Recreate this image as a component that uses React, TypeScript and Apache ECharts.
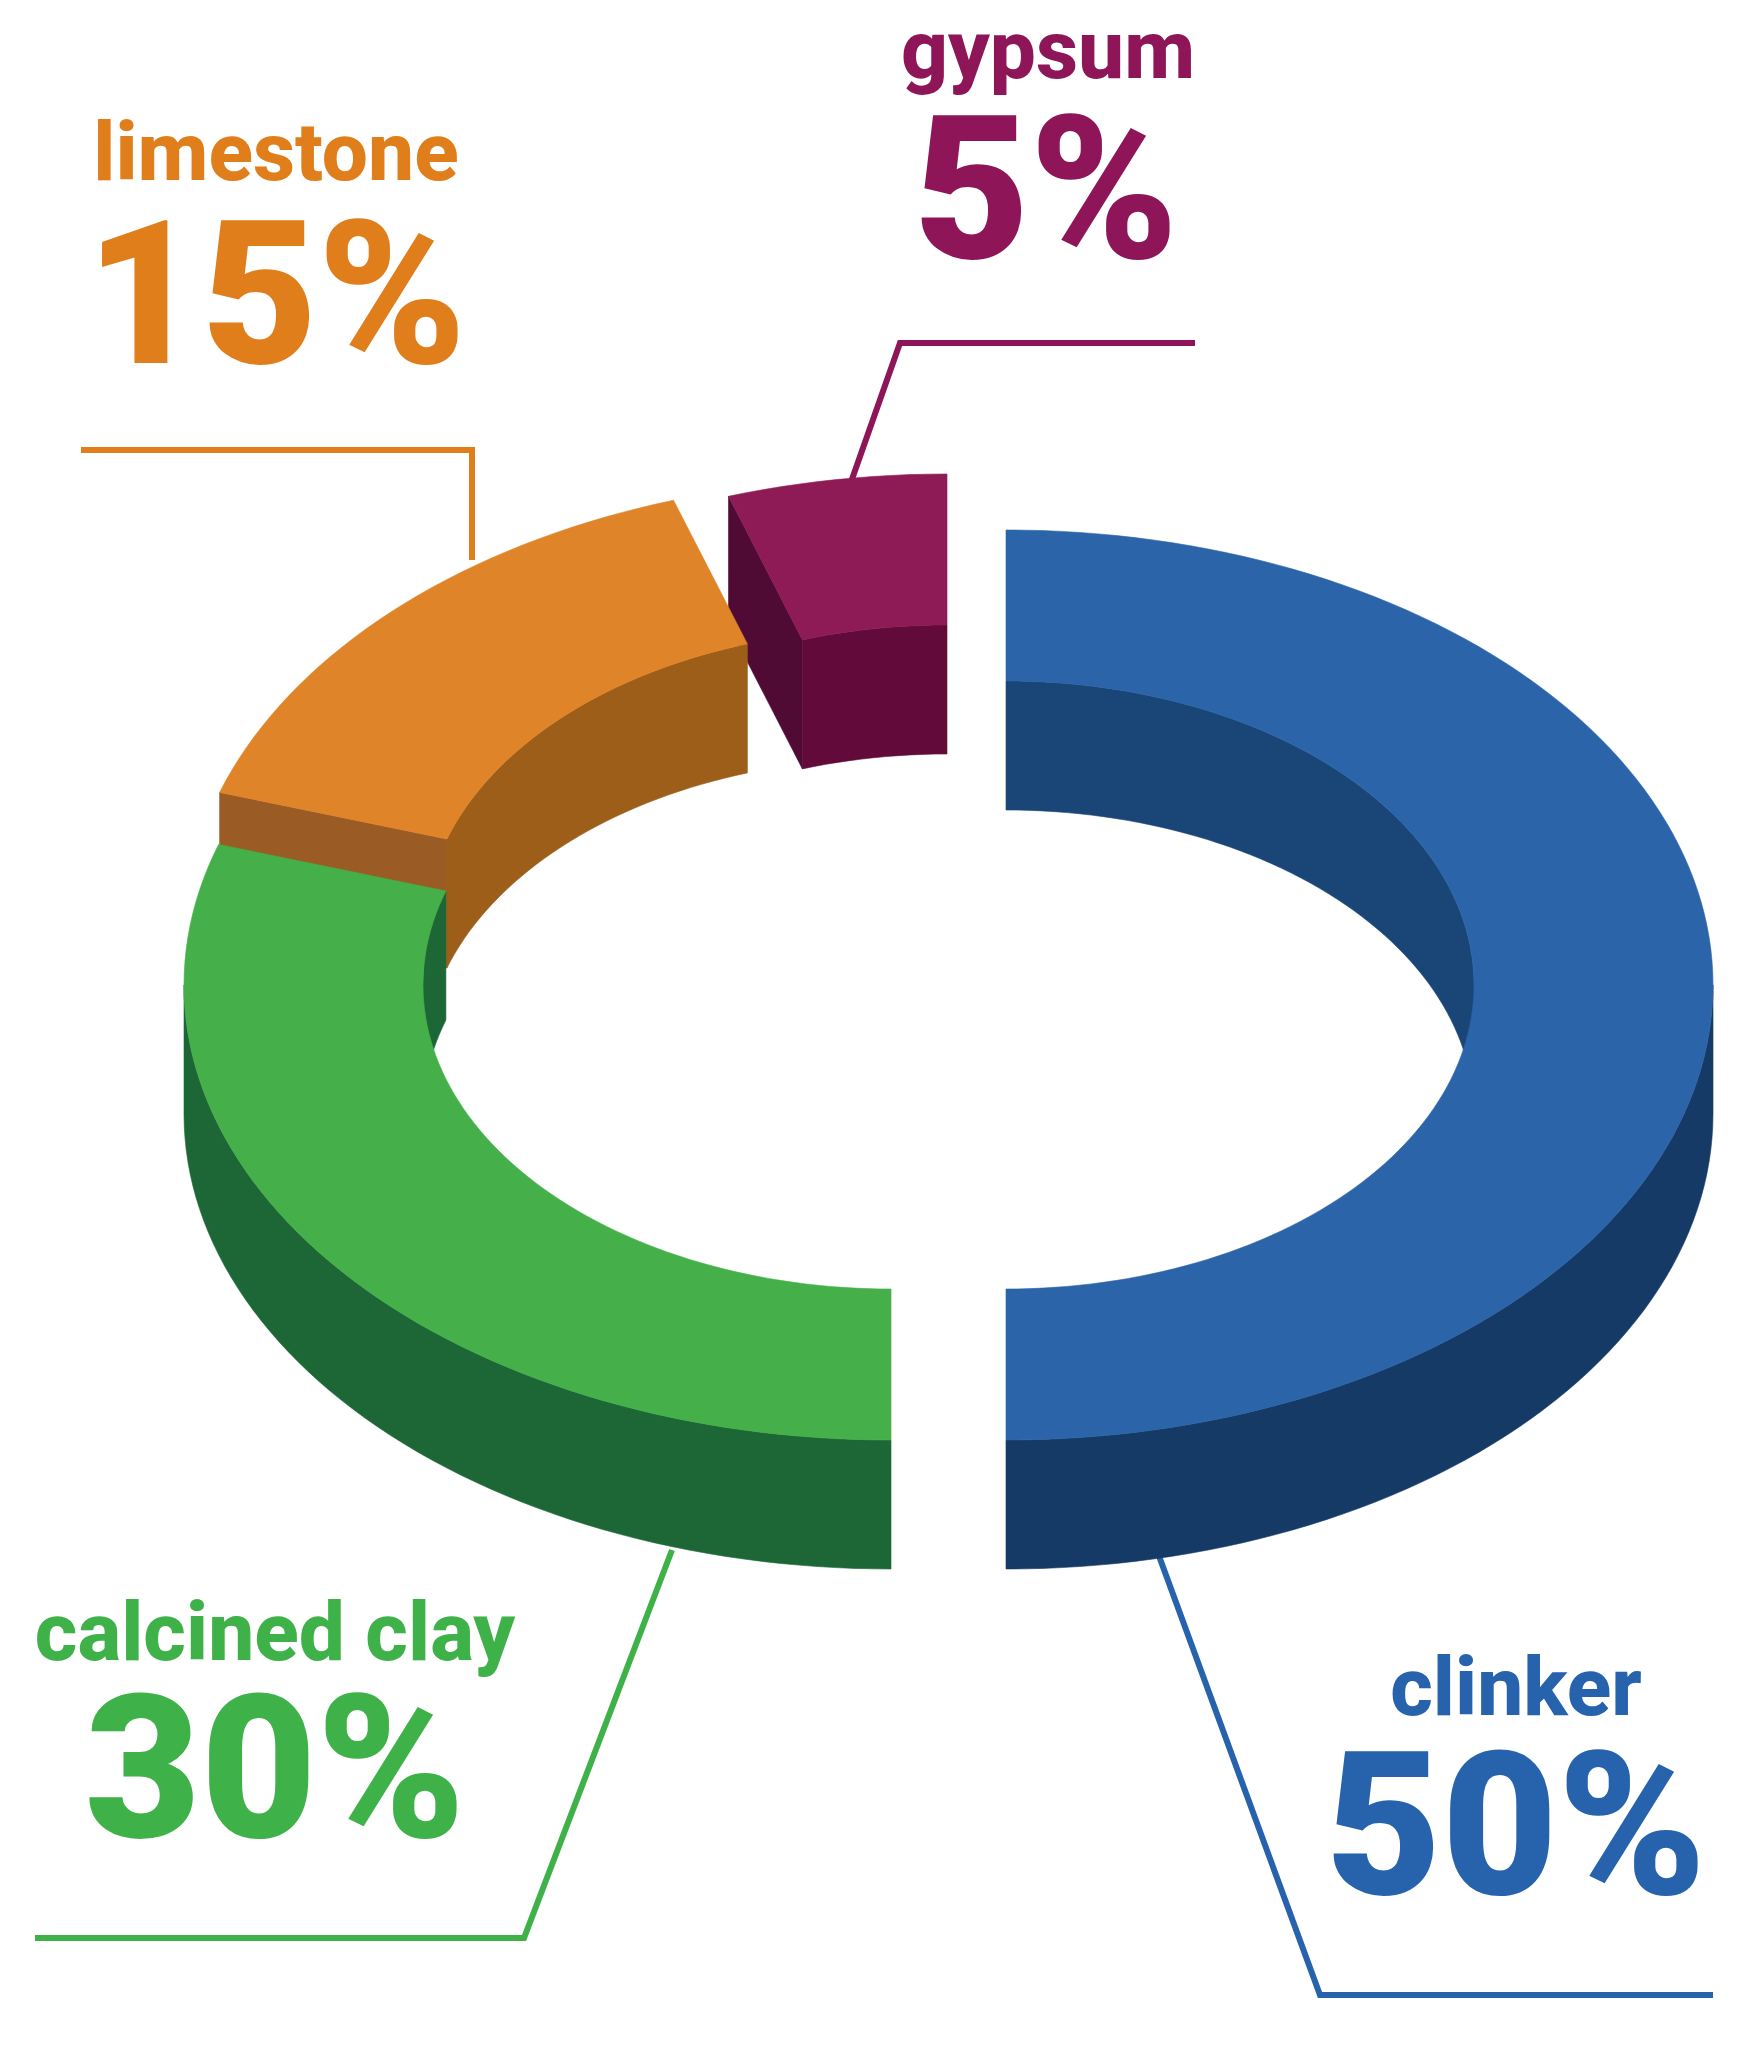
import React, { useEffect, useRef } from "react";
import * as echarts from "echarts";

const categories = ["clinker", "calcined clay", "limestone", "gypsum"];
const shares = [50, 30, 15, 5];
const percentLabels = ["50%", "30%", "15%", "5%"];

const topColors = ["#2B64A8", "#45B04A", "#DF8428", "#8E1B55"];
const innerWallColors = ["#1A4577", "#1D6737", "#9C5E18", "#620A39"];
const outerWallColors = ["#153A66", "#1D6737", "#9C5E18", "#620A39"];
const cutFaceColors = ["#153A66", "#1D6737", "#9B5B24", "#4F0B33"];
const textColors = ["#2762AD", "#3EB149", "#E07E1B", "#8E1557"];

const centersX = [1006, 891, 892, 947];
const centersY = [985, 985, 933, 929];
const OUTER_RX = 707;
const OUTER_RY = 455;
const INNER_RX = 468;
const INNER_RY = 304;
const DEPTH = 129;

const nameAnchors = [[1516, 1716], [275, 1661], [276, 181], [1048, 79]];
const percentAnchors = [[1516, 1895], [275, 1838], [276, 364], [1046, 259]];
const leaders = [
  [[1159, 1556], [1320, 1995], [1713, 1995]],
  [[672, 1550], [524, 1938], [35, 1938]],
  [[81, 450], [472, 450], [472, 560]],
  [[851, 482], [900, 343], [1195, 343]],
];

const FONT = "Roboto, 'Liberation Sans', sans-serif";
const NAME_SIZE = 82;
const PERCENT_SIZE = 200;

const total = shares.reduce((a, b) => a + b, 0);
const point = (i: number, rx: number, ry: number, t: number, dy = 0) => {
  const a = (t * Math.PI) / 180;
  return [centersX[i] + rx * Math.sin(a), centersY[i] - ry * Math.cos(a) + dy];
};
const arc = (i: number, rx: number, ry: number, from: number, to: number, dy = 0) => {
  const pts: number[][] = [];
  const n = Math.max(2, Math.ceil(Math.abs(to - from) / 1.5));
  for (let k = 0; k <= n; k++) pts.push(point(i, rx, ry, from + ((to - from) * k) / n, dy));
  return pts;
};
const wall = (i: number, rx: number, ry: number, from: number, to: number) => [
  ...arc(i, rx, ry, from, to),
  ...arc(i, rx, ry, to, from, DEPTH),
];
const cutFace = (i: number, t: number) => [
  point(i, OUTER_RX, OUTER_RY, t),
  point(i, INNER_RX, INNER_RY, t),
  point(i, INNER_RX, INNER_RY, t, DEPTH),
  point(i, OUTER_RX, OUTER_RY, t, DEPTH),
];

const starts: number[] = [];
shares.reduce((sum, v, i) => {
  starts[i] = (sum / total) * 360;
  return sum + v;
}, 0);

// paint back-to-front: gypsum, limestone, calcined clay, clinker
const paintOrder = [3, 2, 1, 0];

function renderSlice(_params: any, api: any) {
  const i = api.value(0) as number;
  const value = api.value(1) as number;
  const from = starts[i];
  const to = from + (value / total) * 360;
  const eps = 1e-6;
  const shapes: any[] = [];
  const add = (points: number[][], fill: string) =>
    shapes.push({
      type: "polygon",
      shape: { points },
      style: { fill, stroke: fill, lineWidth: 0.6 },
    });
  if (Math.sin((from * Math.PI) / 180) < -eps) add(cutFace(i, from), cutFaceColors[i]);
  if (Math.sin((to * Math.PI) / 180) > eps) add(cutFace(i, to), cutFaceColors[i]);
  // inner wall faces the viewer where the ring is behind the hole (top half)
  const inA = [Math.max(from, 270), to];
  if (inA[1] > inA[0]) add(wall(i, INNER_RX, INNER_RY, inA[0], inA[1]), innerWallColors[i]);
  const inB = [from, Math.min(to, 90)];
  if (inB[1] > inB[0]) add(wall(i, INNER_RX, INNER_RY, inB[0], inB[1]), innerWallColors[i]);
  // outer wall faces the viewer in the bottom half
  const outA = [Math.max(from, 90), Math.min(to, 270)];
  if (outA[1] > outA[0]) add(wall(i, OUTER_RX, OUTER_RY, outA[0], outA[1]), outerWallColors[i]);
  add(
    [...arc(i, OUTER_RX, OUTER_RY, from, to), ...arc(i, INNER_RX, INNER_RY, to, from)],
    topColors[i]
  );
  return { type: "group", children: shapes };
}

export default function App() {
  const ref = useRef<HTMLDivElement>(null);
  useEffect(() => {
    const chart = echarts.init(ref.current!, undefined, { renderer: "svg" });
    const graphics: any[] = [];
    categories.forEach((name, i) => {
      graphics.push({
        type: "polyline",
        z: 1,
        shape: { points: leaders[i] },
        style: { fill: "none", stroke: textColors[i], lineWidth: 6, lineJoin: "miter" },
      });
      graphics.push({
        type: "text",
        z: 3,
        x: nameAnchors[i][0],
        y: nameAnchors[i][1] - NAME_SIZE * 0.35,
        style: {
          text: name,
          fill: textColors[i],
          font: `800 ${NAME_SIZE}px ${FONT}`,
          textAlign: "center",
          textVerticalAlign: "middle",
        },
      });
      graphics.push({
        type: "text",
        z: 3,
        x: percentAnchors[i][0],
        y: percentAnchors[i][1] - PERCENT_SIZE * 0.35,
        style: {
          text: percentLabels[i],
          fill: textColors[i],
          font: `900 ${PERCENT_SIZE}px ${FONT}`,
          textAlign: "center",
          textVerticalAlign: "middle",
        },
      });
    });
    chart.setOption({
      animation: false,
      backgroundColor: "#ffffff",
      graphic: { elements: graphics },
      series: [
        {
          type: "custom",
          coordinateSystem: "none",
          z: 2,
          silent: true,
          clip: false,
          renderItem: renderSlice,
          data: paintOrder.map((i) => ({ name: categories[i], value: [i, shares[i]] })),
        },
      ],
    });
    return () => chart.dispose();
  }, []);
  return (
    <div
      ref={ref}
      style={{ position: "absolute", left: 0, top: 0, width: 1742, height: 2054 }}
    />
  );
}
